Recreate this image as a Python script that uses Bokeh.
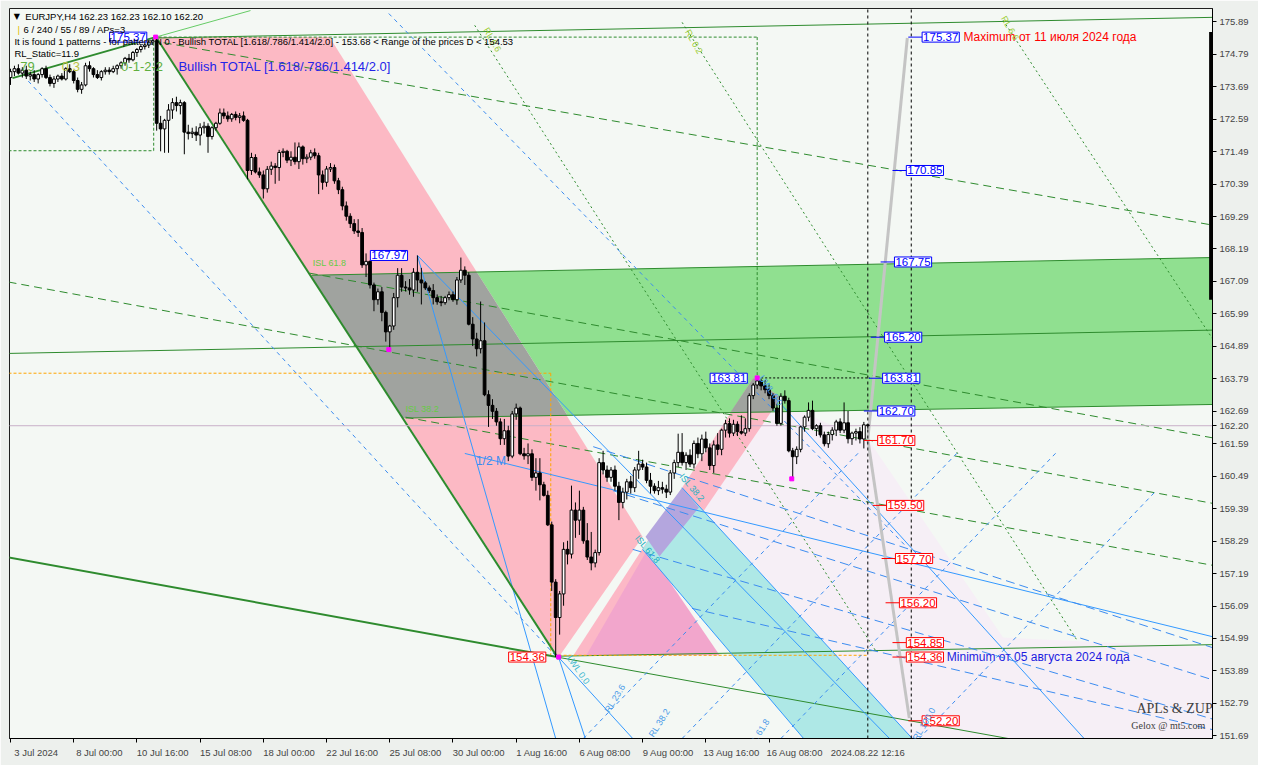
from bokeh.plotting import figure
from bokeh.models import ColumnDataSource, FixedTicker, Label, NumeralTickFormatter, Range1d
from bokeh.embed import file_html
from bokeh.resources import INLINE

# EURJPY H4, bar 0 = 3 Jul 2024 08:00, last bar = 22 Aug 2024 12:00
OPEN = [174.00, 174.20, 174.30, 174.15, 174.25, 174.05, 174.10, 173.95, 174.10, 174.30,
        174.00, 173.80, 173.95, 174.05, 173.95, 174.30, 174.20, 173.90, 173.60, 173.75,
        174.40, 174.30, 174.10, 174.00, 174.20, 174.25, 174.20, 174.30, 174.40, 174.50,
        174.65, 174.60, 174.85, 174.95, 175.05, 175.10, 175.20, 175.25, 172.45, 172.26,
        172.55, 172.90, 173.15, 173.05, 173.15, 172.15, 172.10, 172.15, 172.05, 172.30,
        172.35, 172.00, 172.30, 172.45, 172.80, 172.70, 172.60, 172.75, 172.65, 172.70,
        172.55, 170.85, 171.29, 170.80, 170.70, 170.23, 170.89, 171.00, 170.95, 171.46,
        171.50, 171.20, 171.30, 171.15, 171.65, 171.25, 171.30, 171.45, 171.35, 170.70,
        170.45, 170.90, 170.95, 170.50, 170.20, 169.65, 169.30, 169.05, 168.80, 168.75,
        167.65, 167.77, 166.97, 166.47, 166.74, 166.04, 165.38, 165.58, 166.54, 167.30,
        166.90, 166.87, 166.80, 167.40, 167.14, 167.04, 166.87, 166.78, 166.54, 166.40,
        166.37, 166.54, 166.64, 166.47, 167.14, 167.47, 167.30, 165.64, 165.14, 164.81,
        165.08, 163.25, 162.89, 162.69, 162.33, 161.76, 162.03, 161.17, 162.60, 162.80,
        161.25, 161.18, 161.25, 160.45, 160.60, 160.20, 159.84, 158.84, 156.90, 155.70,
        156.50, 158.01, 157.85, 159.34, 159.00, 159.34, 158.30, 157.75, 157.55, 157.90,
        160.95, 160.70, 160.45, 160.70, 160.15, 159.60, 159.95, 160.30, 160.10, 160.70,
        160.90, 160.80, 160.35, 160.15, 160.00, 160.10, 160.05, 159.95, 160.60, 160.95,
        161.30, 160.95, 161.20, 160.90, 161.60, 161.25, 161.75, 161.45, 160.85, 161.55,
        161.40, 162.05, 162.27, 161.95, 162.25, 162.00, 161.95, 162.10, 163.22, 163.58,
        163.72, 163.55, 163.42, 163.22, 162.80, 162.28, 163.20, 163.05, 161.35, 161.15,
        161.40, 162.16, 162.49, 162.72, 162.10, 162.20, 161.89, 161.59, 161.90, 162.05,
        162.33, 162.05, 162.30, 161.76, 161.95, 162.00, 161.75, 162.23]
HIGH = [174.30, 174.40, 174.45, 174.35, 174.40, 174.20, 174.25, 174.15, 174.35, 174.40,
        174.10, 174.05, 174.10, 174.15, 174.35, 174.45, 174.25, 174.00, 173.85, 174.50,
        174.55, 174.35, 174.25, 174.25, 174.35, 174.35, 174.40, 174.45, 174.55, 174.70,
        174.80, 174.90, 175.00, 175.10, 175.15, 175.25, 175.30, 175.37, 172.70, 172.60,
        173.10, 173.30, 173.35, 173.25, 173.20, 172.40, 172.30, 172.35, 172.45, 172.50,
        172.45, 172.35, 172.50, 172.95, 172.95, 172.85, 172.80, 172.85, 172.80, 172.85,
        172.60, 171.45, 171.40, 170.95, 170.85, 171.00, 171.15, 171.10, 171.55, 171.60,
        171.55, 171.50, 171.80, 171.80, 171.70, 171.40, 171.55, 171.60, 171.45, 170.85,
        171.00, 171.10, 171.05, 170.60, 170.30, 169.80, 169.40, 169.20, 169.20, 168.90,
        168.04, 167.80, 167.05, 166.85, 166.90, 166.10, 165.62, 166.70, 167.54, 167.54,
        167.10, 167.17, 167.54, 167.97, 167.55, 167.10, 166.95, 167.00, 166.65, 166.60,
        166.60, 166.75, 166.75, 167.24, 167.90, 167.60, 167.40, 165.88, 165.35, 166.41,
        165.70, 163.40, 163.10, 162.80, 162.45, 162.43, 162.20, 162.70, 162.95, 162.85,
        161.45, 161.60, 161.40, 161.10, 161.10, 160.30, 160.00, 158.95, 157.00, 156.60,
        158.25, 158.30, 160.17, 159.60, 160.00, 159.45, 158.90, 158.60, 158.00, 161.10,
        161.35, 160.85, 160.80, 160.85, 160.30, 160.10, 160.40, 160.50, 160.80, 161.35,
        161.05, 160.95, 160.60, 160.25, 160.33, 160.30, 160.20, 160.70, 161.05, 161.93,
        161.95, 161.30, 161.40, 161.70, 161.80, 161.90, 162.00, 161.60, 161.70, 161.95,
        162.10, 162.40, 162.45, 162.40, 162.35, 162.55, 162.45, 163.30, 163.65, 163.81,
        163.78, 163.75, 163.60, 163.30, 162.95, 163.30, 163.40, 163.15, 161.45, 161.50,
        162.20, 162.55, 162.99, 163.05, 162.25, 162.30, 162.00, 162.00, 162.15, 162.40,
        162.45, 162.99, 162.70, 162.00, 162.10, 162.15, 162.33, 162.23]
LOW = [173.75, 174.05, 174.10, 174.00, 173.95, 173.90, 173.85, 173.80, 174.00, 173.95,
       173.70, 173.65, 173.85, 173.90, 173.90, 174.15, 173.80, 173.50, 173.45, 173.70,
       174.20, 174.00, 173.95, 173.90, 174.10, 174.10, 174.15, 174.10, 174.30, 174.40,
       174.50, 174.55, 174.70, 174.85, 174.95, 175.00, 175.10, 172.20, 171.50, 171.45,
       171.45, 172.60, 172.85, 172.75, 171.40, 171.90, 171.95, 171.85, 171.70, 172.10,
       171.45, 171.90, 172.20, 172.40, 172.60, 172.50, 172.50, 172.55, 172.45, 172.50,
       170.55, 170.70, 170.75, 170.60, 169.90, 170.10, 170.70, 170.40, 170.50, 171.30,
       171.10, 171.00, 171.05, 170.90, 171.05, 171.10, 171.20, 171.25, 170.05, 170.20,
       170.30, 170.80, 170.40, 170.05, 169.50, 169.15, 168.90, 168.70, 168.60, 167.55,
       167.24, 166.85, 166.08, 166.30, 165.74, 165.05, 164.78, 165.45, 166.21, 166.74,
       166.75, 166.64, 166.57, 166.74, 166.31, 166.80, 166.70, 166.31, 166.30, 166.25,
       166.30, 166.45, 166.40, 166.30, 167.04, 166.97, 165.60, 164.90, 164.55, 164.65,
       163.20, 162.16, 162.43, 162.20, 161.55, 161.55, 161.00, 161.10, 162.40, 161.20,
       161.05, 160.90, 160.33, 160.00, 159.67, 159.80, 158.80, 156.60, 154.36, 155.12,
       156.10, 157.50, 157.70, 158.40, 158.50, 158.20, 157.65, 157.30, 157.40, 157.80,
       160.55, 160.30, 160.30, 160.00, 159.00, 159.40, 159.70, 159.90, 159.95, 160.40,
       160.70, 160.25, 159.90, 159.90, 159.85, 159.90, 159.75, 159.85, 160.40, 160.80,
       160.85, 160.70, 160.80, 160.75, 161.10, 161.00, 161.30, 160.70, 160.60, 161.20,
       161.20, 161.80, 161.80, 161.85, 161.85, 161.90, 161.85, 162.00, 163.10, 163.45,
       163.40, 163.30, 163.10, 162.70, 162.20, 162.20, 162.95, 161.30, 160.40, 160.90,
       161.30, 162.00, 162.35, 162.05, 161.85, 161.80, 161.50, 161.45, 161.70, 161.85,
       161.95, 161.95, 161.60, 161.55, 161.70, 161.60, 161.43, 162.10]
CLOSE = [174.20, 174.30, 174.15, 174.25, 174.05, 174.10, 173.95, 174.10, 174.30, 174.00,
         173.80, 173.95, 174.05, 173.95, 174.30, 174.20, 173.90, 173.60, 173.75, 174.40,
         174.30, 174.10, 174.00, 174.20, 174.25, 174.20, 174.30, 174.40, 174.50, 174.65,
         174.60, 174.85, 174.95, 175.05, 175.10, 175.20, 175.25, 172.45, 172.26, 172.55,
         172.90, 173.15, 173.05, 173.15, 172.15, 172.10, 172.15, 172.05, 172.30, 172.35,
         172.00, 172.30, 172.45, 172.80, 172.70, 172.60, 172.75, 172.65, 172.70, 172.55,
         170.85, 171.29, 170.80, 170.70, 170.23, 170.89, 171.00, 170.95, 171.46, 171.50,
         171.20, 171.30, 171.15, 171.65, 171.25, 171.30, 171.45, 171.35, 170.70, 170.45,
         170.90, 170.95, 170.50, 170.20, 169.65, 169.30, 169.05, 168.80, 168.75, 167.65,
         167.77, 166.97, 166.47, 166.74, 166.04, 165.38, 165.58, 166.54, 167.30, 166.90,
         166.87, 166.80, 167.40, 167.14, 167.04, 166.87, 166.78, 166.54, 166.40, 166.37,
         166.54, 166.64, 166.47, 167.14, 167.47, 167.30, 165.64, 165.14, 164.81, 165.08,
         163.25, 162.89, 162.69, 162.33, 161.76, 162.03, 161.17, 162.60, 162.80, 161.25,
         161.18, 161.25, 160.45, 160.60, 160.20, 159.84, 158.84, 156.90, 155.70, 156.50,
         158.01, 157.85, 159.34, 159.00, 159.34, 158.30, 157.75, 157.55, 157.90, 160.95,
         160.70, 160.45, 160.70, 160.15, 159.60, 159.95, 160.30, 160.10, 160.70, 160.90,
         160.80, 160.35, 160.15, 160.00, 160.10, 160.05, 159.95, 160.60, 160.95, 161.30,
         160.95, 161.20, 160.90, 161.60, 161.25, 161.75, 161.45, 160.85, 161.55, 161.40,
         162.05, 162.27, 161.95, 162.25, 162.00, 161.95, 162.10, 163.22, 163.58, 163.72,
         163.55, 163.42, 163.22, 162.80, 162.28, 163.20, 163.05, 161.35, 161.15, 161.40,
         162.16, 162.49, 162.72, 162.10, 162.20, 161.89, 161.59, 161.90, 162.05, 162.33,
         162.05, 162.30, 161.76, 161.95, 162.00, 161.75, 162.23, 162.20]

X_TICKS = [0, 16, 32, 48, 64, 80, 96, 112, 128, 144, 160, 176, 192]
X_TICK_LABELS = ["3 Jul 2024", "8 Jul 00:00", "10 Jul 16:00", "15 Jul 08:00", "18 Jul 00:00",
                 "22 Jul 16:00", "25 Jul 08:00", "30 Jul 00:00", "1 Aug 16:00", "6 Aug 08:00",
                 "9 Aug 00:00", "13 Aug 16:00", "16 Aug 08:00"]
Y_TICKS = [151.69, 152.79, 153.89, 154.99, 156.09, 157.19, 158.29, 159.39, 160.49, 161.59,
           162.69, 163.79, 164.89, 165.99, 167.09, 168.19, 169.29, 170.39, 171.49, 172.59,
           173.69, 174.79, 175.89]
BID = 162.20
LAST_BAR = 217
LAST_TIME = "2024.08.22 12:16"

# shaded areas of the pattern (bar index, price)
PINK_X = [37, 80.75, 160, 138.75]
PINK_Y = [175.37, 175.37, 158.44, 154.35]
GREEN_X = [118.0, 304.25, 304.25, 141.0]
GREEN_Y = [167.41, 167.90, 162.92, 162.55]
GRAY_X = [75.9, 118.0, 141.0, 99.3]
GRAY_Y = [167.30, 167.41, 162.55, 162.46]
LAV_X = [170, 189, 217.5, 251.25, 304.25, 304.25, 228.25]
LAV_Y = [160.10, 163.32, 161.66, 155.02, 154.68, 151.60, 151.60]
RISE_X = [142.5, 150.5, 195, 188]
RISE_Y = [154.42, 154.42, 163.15, 163.82]
GRAY2_X = [182.25, 192.5, 195, 188]
GRAY2_Y = [162.66, 162.66, 163.15, 163.82]
TRI_X = [145.75, 179.5, 161.25]
TRI_Y = [154.42, 154.42, 158.01]
CYAN_X = [160, 170, 228.25, 200.75]
CYAN_Y = [158.01, 160.10, 151.60, 151.60]
PURPLE_X = [160.75, 170, 174.25, 164.25]
PURPLE_Y = [158.44, 160.10, 159.43, 157.77]

# lines: (x0, y0, x1, y1)
GREEN_THICK = [(37, 175.34, 138.75, 154.29), (0.5, 173.98, 36.75, 175.37),
               (-0.5, 157.74, 138.75, 154.35)]
GREEN_THIN = [(37, 175.34, 304.25, 176.04), (-0.5, 164.65, 304.25, 165.44),
              (76.25, 167.30, 304.25, 167.90), (100, 162.46, 304.25, 162.92),
              (138.75, 154.39, 304.25, 154.78), (138.75, 154.35, 252.5, 151.60)]
GREEN_LIGHT = [(36.75, 175.37, 60.75, 176.27)]
GREEN_DASH = [(38.75, 175.18, 304.25, 169.00), (-0.5, 167.07, 304.25, 159.57),
              (75.75, 167.37, 304.25, 161.79), (100, 162.49, 304.25, 157.47)]
GREEN_DOT = [(117.5, 175.77, 219.25, 154.52), (170, 175.87, 270, 154.92),
             (251.25, 175.94, 304.25, 165.15)]
GREEN_BOX = [(-0.5, 171.52, 36.25, 171.52), (36.25, 171.52, 36.25, 175.37),
             (36.25, 175.37, 189, 175.37), (189, 175.37, 189, 163.82)]
ORANGE_DASH = [(-0.5, 163.98, 136.75, 163.98), (136.75, 163.98, 136.75, 154.42),
               (138.75, 154.42, 217, 154.42)]
BLUE_SOLID = [(103, 167.97, 138, 151.60), (103, 167.97, 222.5, 151.60),
              (189, 163.82, 271.75, 151.60), (115, 161.26, 304.25, 155.05),
              (170, 160.10, 228.25, 151.60), (160, 158.01, 200.75, 151.60),
              (138.75, 154.35, 145.5, 151.60), (138.75, 154.35, 157.5, 151.60)]
BLUE_DASH = [(4.5, 173.88, 138.75, 154.29), (95.75, 176.17, 226.25, 158.17),
             (145, 151.60, 215, 161.33), (170, 151.60, 240, 161.33),
             (195, 151.60, 265, 161.33), (230, 151.60, 290, 160.00)]
BLUE_LONG = [(147.5, 161.49, 304.25, 154.68), (152.5, 160.00, 304.25, 153.59),
             (157.5, 158.01, 304.25, 152.26), (172.5, 156.01, 304.25, 151.90)]
PROJ_GRAY = [(217, 161.73, 227, 175.34), (217, 161.73, 227.5, 152.29)]
PIVOTS_X = [36.75, 95.75, 138.75, 189, 197.75]
PIVOTS_Y = [175.37, 164.78, 154.36, 163.82, 160.40]

# price tags
BLUE_TAG_TEXT = ["175.37", "170.85", "167.75", "165.20", "163.81", "162.70"]
BLUE_TAG_X = [230.75, 226.75, 223.75, 221.25, 220.75, 219.5]
RED_TAG_TEXT = ["161.70", "159.50", "157.70", "156.20", "154.85", "154.36", "152.20"]
RED_TAG_X = [219.5, 221.75, 224, 225, 226.75, 226.75, 230.75]
LEFT_TAG_TEXT = ["175.37", "167.97", "163.81", "154.36"]
LEFT_TAG_X = [34.5, 100.5, 186.5, 135.5]
LEFT_TAG_COLOR = ["blue", "blue", "blue", "red"]

FONT = "Liberation Sans"

p = figure(width=1258, height=765, output_backend="svg", toolbar_location=None,
           x_range=Range1d(-0.25, 304.25), y_range=Range1d(151.60, 176.34),
           y_axis_location="right", min_border_left=9, min_border_top=8,
           min_border_right=46, min_border_bottom=27)
p.background_fill_color = "#F4F8F4"
p.border_fill_color = "#EDF0ED"
p.outline_line_color = "#202020"
p.grid.visible = False

# price axis, with the bid price as an extra tick
p.yaxis.ticker = FixedTicker(ticks=sorted(Y_TICKS + [BID]))
p.yaxis.formatter = NumeralTickFormatter(format="0.00")
p.yaxis.major_label_text_font = FONT
p.yaxis.major_label_text_font_size = "9.5px"
p.yaxis.major_label_standoff = 3
p.yaxis.major_tick_out = 4
p.yaxis.major_tick_in = 0
p.yaxis.minor_tick_line_color = None
p.yaxis.axis_line_color = "black"

# time axis: marks on the bars, labels start right of each mark
label_pos = [t + 6.5 for t in X_TICKS]
p.xaxis.ticker = FixedTicker(ticks=label_pos + [LAST_BAR], minor_ticks=X_TICKS)
overrides = {pos: s for pos, s in zip(label_pos, X_TICK_LABELS)}
overrides[LAST_BAR] = LAST_TIME
p.xaxis.major_label_overrides = overrides
p.xaxis.major_label_text_font = FONT
p.xaxis.major_label_text_font_size = "9.5px"
p.xaxis.major_label_standoff = 2
p.xaxis.major_tick_line_color = None
p.xaxis.minor_tick_out = 4
p.xaxis.minor_tick_in = 0
p.xaxis.minor_tick_line_color = "black"
p.xaxis.axis_line_color = "black"

# filled zones
p.patch(LAV_X, LAV_Y, fill_color="#F6EFF6", line_color=None)
p.patch(PINK_X, PINK_Y, fill_color="#FCB9C4", line_color=None)
p.patch(GREEN_X, GREEN_Y, fill_color="#90E090", line_color=None)
p.patch(GRAY_X, GRAY_Y, fill_color="#A0A39F", line_color=None)
p.patch(RISE_X, RISE_Y, fill_color="#FCB8C6", line_color=None)
p.patch(GRAY2_X, GRAY2_Y, fill_color="#A0A39F", line_color=None)
p.patch(TRI_X, TRI_Y, fill_color="#F2A6CC", line_color=None)
p.patch(CYAN_X, CYAN_Y, fill_color="#AEE8E6", line_color=None)
p.patch(PURPLE_X, PURPLE_Y, fill_color="#B4A6DE", line_color=None)


def draw(lines, **kw):
    p.segment([l[0] for l in lines], [l[1] for l in lines],
              [l[2] for l in lines], [l[3] for l in lines], **kw)


draw(GREEN_THIN, line_color="#2E8B2E", line_width=1)
draw(GREEN_LIGHT, line_color="#66CC66", line_width=1)
draw(GREEN_DASH, line_color="#2E8B2E", line_width=1, line_dash="8 5")
draw(GREEN_DOT, line_color="#2E8B2E", line_width=1, line_dash="2 3")
draw(GREEN_BOX, line_color="#2E8B2E", line_width=1, line_dash="3 2")
draw(ORANGE_DASH, line_color="#FFA500", line_width=1, line_dash="3 2")
draw(BLUE_SOLID, line_color="#3399FF", line_width=1)
draw(BLUE_DASH, line_color="#3C8CF0", line_width=1, line_dash="4 4")
draw(BLUE_LONG, line_color="#3C8CF0", line_width=1, line_dash="9 5")
draw(GREEN_THICK, line_color="#2E8B2E", line_width=2)
draw(PROJ_GRAY, line_color="#C4C4C4", line_width=3)
p.segment([189], [163.82], [217.5], [163.82], line_color="black", line_dash="2 2")
p.segment([-0.5], [BID], [304.25], [BID], line_color="#C8B0C8", line_width=1)
p.segment([217, 228], [151.6, 151.6], [217, 228], [176.4, 176.4],
          line_color="black", line_dash="3 3")
p.segment([303.9], [175.54], [303.9], [166.47], line_color="black", line_width=4)

# candles
bars = list(range(len(OPEN)))
src = ColumnDataSource(dict(
    x=bars, high=HIGH, low=LOW,
    top=[max(o, c) for o, c in zip(OPEN, CLOSE)],
    bottom=[min(o, c) for o, c in zip(OPEN, CLOSE)],
    fill=["white" if c >= o else "black" for o, c in zip(OPEN, CLOSE)],
))
p.segment("x", "low", "x", "high", source=src, line_color="black", line_width=1)
p.vbar("x", 0.7, "top", "bottom", source=src, fill_color="fill", line_color="black",
       line_width=1)

p.scatter(PIVOTS_X, PIVOTS_Y, marker="square", size=4, color="#FF00FF")


def label(text, x, y, color="black", size="11px", align="left", baseline="middle",
          angle=0, font=FONT, **kw):
    p.add_layout(Label(x=x, y=y, text=text, text_color=color, text_font=font,
                       text_font_size=size, text_align=align, text_baseline=baseline,
                       angle=angle, angle_units="deg", **kw))


for t, x in zip(BLUE_TAG_TEXT, BLUE_TAG_X):
    v = float(t)
    p.segment([x - 3.5], [v], [x], [v], line_color="blue")
    label(t, x, v, color="blue", size="11.5px", border_line_color="blue",
          background_fill_color="white", padding=1)
for t, x in zip(RED_TAG_TEXT, RED_TAG_X):
    v = float(t)
    p.segment([x - 3.5], [v], [x], [v], line_color="red")
    label(t, x, v, color="red", size="11.5px", border_line_color="red",
          background_fill_color="white", padding=1)
for t, x, c in zip(LEFT_TAG_TEXT, LEFT_TAG_X, LEFT_TAG_COLOR):
    label(t, x, float(t), color=c, size="11.5px", align="right", border_line_color=c,
          background_fill_color="white", padding=1)

label("Maximum от 11 июля 2024 года", 241.25, 175.37, color="red", size="12px")
label("Minimum от 05 августа 2024 года", 237, 154.36, color="#1C1CE0", size="12px")
label("Bullish TOTAL [1.618/.786/1.414/2.0]", 42.5, 174.38, color="#2424E8", size="13px")
label("79", 2.5, 174.38, color="#5FAF3F", size="13px")
label("0.3", 13, 174.38, color="#B8C040", size="13px")
label("0-1-2-2", 28, 174.38, color="#5FAF3F", size="13px")
label("ISL 61.8", 76.5, 167.70, color="#66CC44", size="9px")
label("ISL 38.2", 100, 162.75, color="#66CC44", size="9px")
label("1/2 M", 117.8, 161.00, color="#3C8CF0", size="12px")

ROT_TEXT = ["RL 23.6", "RL 38.2", "RL 61.8", "RL 100.0", "LWL 0.0", "UWL 0.0",
            "ISL 61.8", "ISL 38.2", "RL 6.6", "RL 0.2", "RL 6.6"]
ROT_X = [153, 164.25, 189.5, 231.25, 143.75, 192.5, 161.25, 172.5, 122, 173, 253]
ROT_Y = [152.96, 152.13, 151.79, 152.09, 153.92, 163.39, 158.01, 160.10, 175.28, 175.21, 175.67]
ROT_ANGLE = [58, 58, 58, 60, -55, -55, -50, -50, -60, -60, -60]
ROT_COLOR = ["#4A9BE8", "#4A9BE8", "#4A9BE8", "#4A9BE8", "#40B8D0", "#4A9BE8",
             "#20B0C0", "#20B0C0", "#9ACD32", "#9ACD32", "#9ACD32"]
for t, x, y, a, c in zip(ROT_TEXT, ROT_X, ROT_Y, ROT_ANGLE, ROT_COLOR):
    label(t, x, y, color=c, size="9px", align="center", angle=a)

# header lines of the terminal window
label("▼", 0.8, 176.07, size="8px", font="DejaVu Sans")
label("EURJPY,H4  162.23 162.23 162.10 162.20", 3.75, 176.07, size="9.5px")
label("|", 1.8, 175.64, color="#E0C000", size="9.5px")
label("6 / 240 / 55 / 89 / APs=3", 3.3, 175.64, size="9.5px")
label("It is found 1 patterns  - for pattern N 0 - Bullish TOTAL [1.618/.786/1.414/2.0]"
      " - 153.68 < Range of the prices D < 154.53", 1.0, 175.21, size="9.5px")
label("RL_Static=11.9", 1.0, 174.81, size="9.5px")

label("APLs & ZUP", 285, 152.62, color="#404040", size="14px", font="Liberation Serif")
label("Gelox @ mt5.com", 283.7, 152.05, color="#404040", size="10px", font="Liberation Serif")

open("out.html", "w").write(file_html(p, INLINE, "EURJPY H4"))
